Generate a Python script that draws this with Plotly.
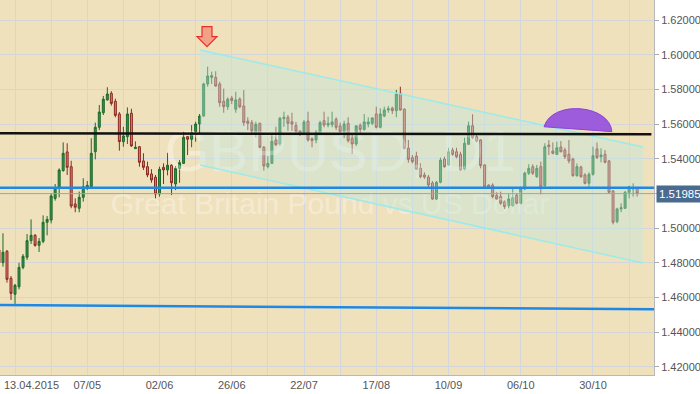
import plotly.graph_objects as go
import pandas as pd

# ---------------- data ----------------
dates = pd.bdate_range("2015-04-07", "2015-11-16").strftime("%Y-%m-%d").tolist()

open_ = [1.4873, 1.4800, 1.4866, 1.4710, 1.4618, 1.4661, 1.4773, 1.4831, 1.4927, 1.4958,
         1.4900, 1.4923, 1.5033, 1.5046, 1.5171, 1.5229, 1.5331, 1.5439, 1.5354, 1.5139,
         1.5114, 1.5177, 1.5235, 1.5238, 1.5440, 1.5581, 1.5665, 1.5739, 1.5777, 1.5731,
         1.5658, 1.5498, 1.5527, 1.5662, 1.5458, 1.5469, 1.5387, 1.5354, 1.5312, 1.5293,
         1.5196, 1.5350, 1.5335, 1.5362, 1.5254, 1.5344, 1.5373, 1.5527, 1.5512, 1.5556,
         1.5600, 1.5646, 1.5831, 1.5869, 1.5869, 1.5831, 1.5731, 1.5700, 1.5750, 1.5685,
         1.5744, 1.5704, 1.5617, 1.5608, 1.5542, 1.5604, 1.5466, 1.5354, 1.5373, 1.5508,
         1.5485, 1.5631, 1.5639, 1.5613, 1.5592, 1.5560, 1.5542, 1.5617, 1.5515, 1.5508,
         1.5546, 1.5619, 1.5594, 1.5596, 1.5627, 1.5589, 1.5556, 1.5604, 1.5518, 1.5485,
         1.5592, 1.5569, 1.5600, 1.5604, 1.5658, 1.5581, 1.5646, 1.5681, 1.5692, 1.5677,
         1.5777, 1.5685, 1.5460, 1.5406, 1.5415, 1.5344, 1.5306, 1.5294, 1.5260, 1.5167,
         1.5264, 1.5398, 1.5364, 1.5450, 1.5440, 1.5425, 1.5340, 1.5483, 1.5590, 1.5527,
         1.5508, 1.5364, 1.5248, 1.5248, 1.5187, 1.5181, 1.5152, 1.5129, 1.5129, 1.5190,
         1.5143, 1.5225, 1.5316, 1.5354, 1.5296, 1.5354, 1.5244, 1.5479, 1.5444, 1.5425,
         1.5467, 1.5450, 1.5425, 1.5398, 1.5302, 1.5352, 1.5306, 1.5258, 1.5310, 1.5456,
         1.5411, 1.5425, 1.5387, 1.5214, 1.5037, 1.5110, 1.5114, 1.5206, 1.5225, 1.5229]
high = [1.4885, 1.4970, 1.4873, 1.4723, 1.4677, 1.4800, 1.4850, 1.4965, 1.5050, 1.4965,
        1.4942, 1.5073, 1.5069, 1.5200, 1.5254, 1.5344, 1.5494, 1.5489, 1.5388, 1.5171,
        1.5210, 1.5287, 1.5271, 1.5518, 1.5608, 1.5710, 1.5762, 1.5812, 1.5789, 1.5746,
        1.5669, 1.5584, 1.5696, 1.5688, 1.5500, 1.5473, 1.5431, 1.5383, 1.5339, 1.5306,
        1.5354, 1.5373, 1.5434, 1.5369, 1.5358, 1.5392, 1.5556, 1.5531, 1.5594, 1.5613,
        1.5658, 1.5838, 1.5931, 1.5902, 1.5904, 1.5844, 1.5804, 1.5754, 1.5762, 1.5786,
        1.5754, 1.5796, 1.5639, 1.5623, 1.5613, 1.5608, 1.5473, 1.5415, 1.5537, 1.5584,
        1.5642, 1.5671, 1.5652, 1.5665, 1.5612, 1.5561, 1.5623, 1.5671, 1.5523, 1.5565,
        1.5619, 1.5671, 1.5642, 1.5671, 1.5639, 1.5608, 1.5619, 1.5639, 1.5537, 1.5594,
        1.5604, 1.5658, 1.5639, 1.5639, 1.5700, 1.5691, 1.5700, 1.5704, 1.5700, 1.5796,
        1.5815, 1.5691, 1.5508, 1.5421, 1.5440, 1.5373, 1.5321, 1.5306, 1.5271, 1.5271,
        1.5406, 1.5411, 1.5463, 1.5463, 1.5463, 1.5440, 1.5521, 1.5613, 1.5656, 1.5540,
        1.5513, 1.5368, 1.5252, 1.5258, 1.5206, 1.5210, 1.5162, 1.5200, 1.5229, 1.5200,
        1.5238, 1.5325, 1.5368, 1.5368, 1.5364, 1.5383, 1.5489, 1.5508, 1.5494, 1.5498,
        1.5502, 1.5463, 1.5508, 1.5406, 1.5373, 1.5360, 1.5316, 1.5321, 1.5469, 1.5494,
        1.5460, 1.5450, 1.5392, 1.5219, 1.5117, 1.5143, 1.5214, 1.5244, 1.5258, 1.5238]
low = [1.4787, 1.4777, 1.4685, 1.4585, 1.4562, 1.4646, 1.4762, 1.4816, 1.4908, 1.4892,
       1.4862, 1.4912, 1.4958, 1.5027, 1.5158, 1.5177, 1.5325, 1.5306, 1.5114, 1.5091,
       1.5091, 1.5152, 1.5219, 1.5235, 1.5396, 1.5565, 1.5652, 1.5735, 1.5706, 1.5639,
       1.5446, 1.5469, 1.5485, 1.5469, 1.5458, 1.5354, 1.5335, 1.5293, 1.5261, 1.5171,
       1.5181, 1.5254, 1.5304, 1.5190, 1.5219, 1.5261, 1.5369, 1.5421, 1.5466, 1.5498,
       1.5546, 1.5642, 1.5815, 1.5831, 1.5815, 1.5700, 1.5665, 1.5681, 1.5715, 1.5665,
       1.5691, 1.5589, 1.5565, 1.5546, 1.5523, 1.5460, 1.5331, 1.5344, 1.5369, 1.5473,
       1.5473, 1.5584, 1.5561, 1.5561, 1.5546, 1.5531, 1.5537, 1.5498, 1.5466, 1.5489,
       1.5537, 1.5581, 1.5581, 1.5581, 1.5565, 1.5546, 1.5518, 1.5492, 1.5427, 1.5473,
       1.5550, 1.5561, 1.5581, 1.5594, 1.5575, 1.5575, 1.5639, 1.5665, 1.5658, 1.5639,
       1.5677, 1.5454, 1.5377, 1.5373, 1.5335, 1.5287, 1.5283, 1.5233, 1.5162, 1.5162,
       1.5258, 1.5348, 1.5360, 1.5417, 1.5402, 1.5329, 1.5333, 1.5479, 1.5513, 1.5494,
       1.5344, 1.5233, 1.5225, 1.5171, 1.5162, 1.5133, 1.5110, 1.5114, 1.5123, 1.5137,
       1.5137, 1.5219, 1.5306, 1.5306, 1.5290, 1.5194, 1.5238, 1.5421, 1.5425, 1.5421,
       1.5437, 1.5398, 1.5373, 1.5296, 1.5296, 1.5290, 1.5252, 1.5233, 1.5302, 1.5398,
       1.5379, 1.5373, 1.5200, 1.5021, 1.5027, 1.5091, 1.5110, 1.5171, 1.5181, 1.5181]
close = [1.4799, 1.4860, 1.4704, 1.4623, 1.4670, 1.4773, 1.4837, 1.4927, 1.4958, 1.4900,
         1.4923, 1.5033, 1.5050, 1.5185, 1.5233, 1.5335, 1.5431, 1.5350, 1.5127, 1.5120,
         1.5177, 1.5238, 1.5246, 1.5431, 1.5581, 1.5669, 1.5743, 1.5773, 1.5719, 1.5650,
         1.5498, 1.5531, 1.5658, 1.5473, 1.5466, 1.5379, 1.5350, 1.5306, 1.5277, 1.5196,
         1.5339, 1.5335, 1.5362, 1.5261, 1.5344, 1.5377, 1.5523, 1.5512, 1.5550, 1.5600,
         1.5646, 1.5831, 1.5877, 1.5879, 1.5819, 1.5723, 1.5700, 1.5743, 1.5735, 1.5739,
         1.5700, 1.5608, 1.5604, 1.5561, 1.5598, 1.5466, 1.5358, 1.5373, 1.5500, 1.5481,
         1.5633, 1.5639, 1.5604, 1.5600, 1.5556, 1.5542, 1.5612, 1.5508, 1.5504, 1.5550,
         1.5608, 1.5594, 1.5604, 1.5612, 1.5581, 1.5556, 1.5600, 1.5504, 1.5485, 1.5589,
         1.5569, 1.5612, 1.5612, 1.5635, 1.5581, 1.5658, 1.5681, 1.5688, 1.5677, 1.5773,
         1.5681, 1.5460, 1.5396, 1.5383, 1.5339, 1.5296, 1.5294, 1.5248, 1.5167, 1.5264,
         1.5392, 1.5354, 1.5440, 1.5425, 1.5411, 1.5335, 1.5489, 1.5590, 1.5521, 1.5502,
         1.5360, 1.5238, 1.5237, 1.5181, 1.5167, 1.5143, 1.5123, 1.5167, 1.5175, 1.5143,
         1.5229, 1.5316, 1.5344, 1.5316, 1.5344, 1.5238, 1.5469, 1.5469, 1.5431, 1.5463,
         1.5440, 1.5411, 1.5387, 1.5302, 1.5354, 1.5296, 1.5258, 1.5310, 1.5417, 1.5406,
         1.5421, 1.5379, 1.5206, 1.5033, 1.5110, 1.5117, 1.5206, 1.5238, 1.5233, 1.51985]

tick_dates = ["2015-04-13", "2015-05-07", "2015-06-02", "2015-06-26", "2015-07-22",
              "2015-08-17", "2015-09-10", "2015-10-06", "2015-10-30"]
tick_labels = ["13.04.2015", "07/05", "02/06", "26/06", "22/07", "17/08", "10/09", "06/10", "30/10"]
price_ticks = [1.42, 1.44, 1.46, 1.48, 1.50, 1.52, 1.54, 1.56, 1.58, 1.60, 1.62]
last_price = 1.51985

# drawn objects (bar-index / price anchors)
resistance_level = [1.5546, 1.5541]      # black line, left -> right
upper_blue_level = [1.5232, 1.5232]
lower_blue_level = [1.4556, 1.4531]
channel_x = [50.1, 160.45]
channel_top = [1.6027, 1.5467]
channel_bottom = [1.5363, 1.4798]
arc_x = [135.8, 152.7]
arc_y = [1.5584, 1.5556]
arc_height = 0.0118
arrow_anchor = (51.83, 1.6046)

title_wm = "GBPUSD, D1"
subtitle_wm = "Great Britain Pound vs US Dollar"
title_pos = (85.0, 1.5410)
subtitle_pos = (82.5, 1.5127)

# ---------------- figure ----------------
xs = list(range(len(dates)))
x_range = [0.26, 163.2]
y_range = [1.41521, 1.63154]

first_tick = dates.index(tick_dates[0])
grid_x = list(range(first_tick, len(dates) + 4, 9))
label_map = {dates.index(d): t for d, t in zip(tick_dates, tick_labels)}
grid_text = ["" if v == first_tick else label_map.get(v, "") for v in grid_x]

# the last-price tag covers the 1.52000 label, as in the original
y_text = ["" if abs(v - last_price) < 0.005 else f"{v:.5f}" for v in price_ticks]

FONT = "Liberation Sans, Arial, sans-serif"
fig = go.Figure()

# watermark (behind candles)
fig.add_trace(go.Scatter(
    x=[title_pos[0], subtitle_pos[0]], y=[title_pos[1], subtitle_pos[1]], mode="text",
    text=[title_wm, subtitle_wm],
    textfont=dict(family=FONT, size=[58, 30], color="rgba(255,255,255,0.33)"),
    hoverinfo="skip", showlegend=False))

fig.add_trace(go.Candlestick(
    x=xs, open=open_, high=high, low=low, close=close,
    increasing=dict(line=dict(color="#1e6a2c", width=1), fillcolor="#2f9048"),
    decreasing=dict(line=dict(color="#8a2a22", width=1), fillcolor="#e07a6e"),
    whiskerwidth=0, showlegend=False, hoverinfo="skip"))

shapes = []
# channel
shapes.append(dict(
    type="path", xref="x", yref="y", layer="above",
    path=(f"M {channel_x[0]},{channel_top[0]} L {channel_x[1]},{channel_top[1]} "
          f"L {channel_x[1]},{channel_bottom[1]} L {channel_x[0]},{channel_bottom[0]} Z"),
    fillcolor="rgba(190,232,222,0.42)", line=dict(width=0)))
for yy in (channel_top, channel_bottom):
    shapes.append(dict(type="line", xref="x", yref="y", layer="above",
                       x0=channel_x[0], x1=channel_x[1], y0=yy[0], y1=yy[1],
                       line=dict(color="rgba(150,235,235,0.95)", width=1.5)))
# horizontal levels
shapes.append(dict(type="line", xref="paper", yref="y", layer="above",
                   x0=0, x1=0.996, y0=resistance_level[0], y1=resistance_level[1],
                   line=dict(color="#111111", width=2.5)))
shapes.append(dict(type="line", xref="paper", yref="y", layer="above",
                   x0=0, x1=1, y0=upper_blue_level[0], y1=upper_blue_level[1],
                   line=dict(color="#1e88e5", width=2.5)))
shapes.append(dict(type="line", xref="paper", yref="y", layer="above",
                   x0=0, x1=1, y0=lower_blue_level[0], y1=lower_blue_level[1],
                   line=dict(color="#1e88e5", width=2.5)))
shapes.append(dict(type="line", xref="paper", yref="y", layer="above",
                   x0=0, x1=1, y0=last_price, y1=last_price,
                   line=dict(color="#8aa8cc", width=1)))
# purple arc
c = 4.0 / 3.0 * arc_height
shapes.append(dict(
    type="path", xref="x", yref="y", layer="above",
    path=(f"M {arc_x[0]},{arc_y[0]} C {arc_x[0] + 2.0},{arc_y[0] + c} "
          f"{arc_x[1] - 0.5},{arc_y[1] + c} {arc_x[1]},{arc_y[1]} Z"),
    fillcolor="rgba(150,80,220,0.92)", line=dict(color="#8e44d8", width=1)))
# down arrow
shapes.append(dict(
    type="path", xref="x", yref="y", xsizemode="pixel", ysizemode="pixel",
    xanchor=arrow_anchor[0], yanchor=arrow_anchor[1], layer="above",
    path="M 0,0 L -10,10 L -5,10 L -5,20 L 5,20 L 5,10 L 10,10 Z",
    fillcolor="#f2a086", line=dict(color="#e8302a", width=1.2)))

annotations = [
    dict(xref="paper", yref="y", x=1, y=last_price, xanchor="left", yanchor="middle",
         xshift=2, text="1.51985", showarrow=False, bgcolor="#4a6b90",
         font=dict(family=FONT, size=11.5, color="white"), borderpad=2),
    dict(xref="paper", yref="paper", x=0, y=0, xanchor="left", yanchor="top",
         xshift=2, yshift=-2, text=tick_labels[0], showarrow=False,
         font=dict(family=FONT, size=11, color="#555555")),
]

fig.update_layout(
    width=700, height=394,
    margin=dict(l=0, r=46, t=0, b=19, autoexpand=False),
    paper_bgcolor="white", plot_bgcolor="#f0e1bd",
    showlegend=False, shapes=shapes, annotations=annotations,
    xaxis=dict(range=x_range, tickmode="array", tickvals=grid_x, ticktext=grid_text,
               showgrid=True, gridcolor="#d5d6dc", gridwidth=1, ticks="",
               rangeslider=dict(visible=False), zeroline=False,
               showline=True, linecolor="#b8b8b8", linewidth=1,
               tickfont=dict(family=FONT, size=11, color="#555555")),
    yaxis=dict(range=y_range, side="right", tickmode="array", tickvals=price_ticks,
               ticktext=y_text,
               showgrid=True, gridcolor="#d5d6dc", gridwidth=1, zeroline=False,
               ticks="outside", ticklen=4, tickcolor="#aaaaaa",
               showline=True, linecolor="#b8b8b8", linewidth=1,
               tickfont=dict(family=FONT, size=11, color="#555555")),
)

fig.write_html("out.html", config={"displayModeBar": False},
               post_script="document.body.style.margin='0';document.body.style.overflow='hidden';")
